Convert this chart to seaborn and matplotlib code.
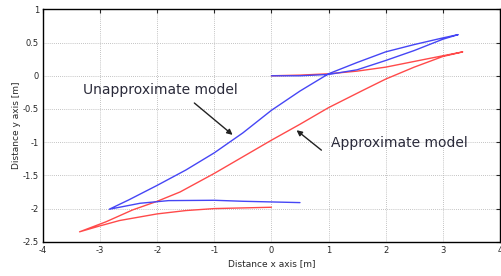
import numpy as np
import pandas as pd
import seaborn as sns
from matplotlib import pyplot as plt

# path of the unapproximate model (blue)
unapprox_x = [0.0, 0.5, 1.0, 1.5, 2.0, 2.5, 3.0, 3.27,
              3.0, 2.5, 2.0, 1.5, 1.0, 0.5, 0.0, -0.5, -1.0, -1.5, -2.0, -2.5, -2.84,
              -2.3, -1.8, -1.0, -0.5, 0.0, 0.5]
unapprox_y = [0.0, 0.0, 0.02, 0.09, 0.23, 0.38, 0.55, 0.62,
              0.57, 0.47, 0.36, 0.2, 0.03, -0.23, -0.52, -0.86, -1.16, -1.42, -1.65, -1.87, -2.01,
              -1.92, -1.88, -1.875, -1.89, -1.9, -1.91]

# path of the approximate model (red)
approx_x = [0.0, 0.5, 1.0, 1.5, 2.0, 2.7, 3.35,
            3.0, 2.5, 2.0, 1.6, 1.0, 0.5, 0.0, -0.5, -1.0, -1.6, -2.0, -2.43, -2.9, -3.36,
            -3.0, -2.66, -2.0, -1.5, -1.0, -0.5, 0.0]
approx_y = [0.0, 0.01, 0.03, 0.07, 0.13, 0.25, 0.36,
            0.29, 0.13, -0.05, -0.22, -0.48, -0.73, -0.97, -1.22, -1.47, -1.75, -1.89, -2.02, -2.2, -2.35,
            -2.26, -2.18, -2.08, -2.03, -2.0, -1.99, -1.98]

xticks = [-4, -3, -2, -1, 0, 1, 2, 3, 4]
yticks = [-2.5, -2, -1.5, -1, -0.5, 0, 0.5, 1]

sns.set_style("white")
plt.rcParams['font.family'] = ['DejaVu Sans']

df = pd.concat([
    pd.DataFrame({"x": approx_x, "y": approx_y, "model": "Approximate"}),
    pd.DataFrame({"x": unapprox_x, "y": unapprox_y, "model": "Unapproximate"}),
])

fig = plt.figure(figsize=(5.02, 2.76), dpi=100)
ax = fig.add_axes([0.0857, 0.124, 0.91, 0.842])

sns.lineplot(data=df, x="x", y="y", hue="model", sort=False, estimator=None,
             palette={"Approximate": "#ff4a4a", "Unapproximate": "#4646f5"},
             linewidth=1.0, legend=False, ax=ax)

ax.set_xlim(-4, 4)
ax.set_ylim(-2.5, 1)
ax.set_xticks(xticks)
ax.set_yticks(yticks)
ax.set_xticklabels([f"{t:g}" for t in xticks], fontsize=6)
ax.set_yticklabels([f"{t:g}" for t in yticks], fontsize=6)
ax.tick_params(direction="in", length=3, width=0.8, top=True, right=True,
               labeltop=False, labelright=False, pad=3)
ax.grid(True, linestyle=(0, (1, 1.5)), color="#b0b0b0", linewidth=0.6)
for s in ax.spines.values():
    s.set_color("black")
    s.set_linewidth(1.0)

ax.set_xlabel("Distance x axis [m]", fontsize=6.5, labelpad=3)
ax.set_ylabel("Distance y axis [m]", fontsize=6.5, labelpad=1)

ax.text(-1.94, -0.22, "Unapproximate model", ha="center", va="center",
        fontsize=10, color="#2a2a3a")
ax.text(1.05, -1.01, "Approximate model", ha="left", va="center",
        fontsize=10, color="#2a2a3a")
ax.annotate("", xy=(-0.68, -0.89), xytext=(-1.35, -0.41),
            arrowprops=dict(arrowstyle="-|>", color="#222222", lw=1.0,
                            shrinkA=0, shrinkB=0, mutation_scale=8))
ax.annotate("", xy=(0.44, -0.82), xytext=(0.875, -1.12),
            arrowprops=dict(arrowstyle="-|>", color="#222222", lw=1.0,
                            shrinkA=0, shrinkB=0, mutation_scale=8))

fig.savefig("out.png", dpi=100)
